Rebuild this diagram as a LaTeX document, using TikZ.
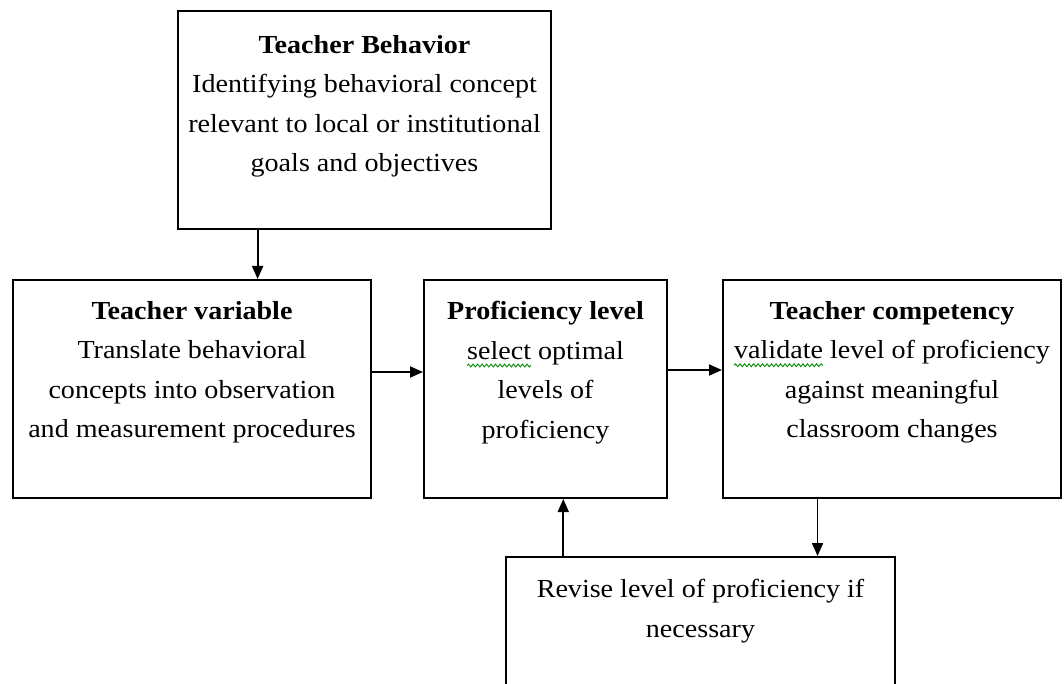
\documentclass[tikz,border=0pt]{standalone}
\usepackage{fontspec}
\setmainfont{Liberation Serif}[FakeStretch=1.08]
\usetikzlibrary{arrows.meta,calc,decorations.pathmorphing}
\newsavebox{\sqbox}
\newcommand{\squig}[1]{\sbox{\sqbox}{#1}\rlap{\tikz[baseline=0pt]{\useasboundingbox (0pt,0pt);\draw[green!55!black,line width=0.9pt,decorate,decoration={snake,amplitude=1.4pt,segment length=4.5pt}] (0pt,-6.5pt) -- (\the\wd\sqbox,-6.5pt);}}\usebox{\sqbox}}
\begin{document}
\begin{tikzpicture}[x=1pt,y=-1pt,
  box/.style={draw=black,line width=2pt,rectangle,anchor=north west,inner sep=0pt},
  lab/.style={anchor=north,align=center,inner sep=0pt,text=black,font=\fontsize{26}{39.5}\selectfont},
  arr/.style={line width=1.8pt,-{Triangle[length=13pt,width=11pt]}}]
\useasboundingbox (0,0) rectangle (1064,684);
\clip (0,0) rectangle (1064,684);
\fill[white] (0,0) rectangle (1064,684);

\node[box,minimum width=373pt,minimum height=218pt,
  label={[lab,yshift=-25pt]north:{\textbf{Teacher Behavior}\\Identifying behavioral concept\\relevant to local or institutional\\goals and objectives}}]
  (tb) at (177,10) {};
\node[box,minimum width=358pt,minimum height=218pt,
  label={[lab,yshift=-22pt]north:{\textbf{Teacher variable}\\Translate behavioral\\concepts into observation\\and measurement procedures}}]
  (tv) at (12,279) {};
\node[box,minimum width=243pt,minimum height=218pt,
  label={[lab,yshift=-22pt]north:{\textbf{Proficiency level}\\\squig{select} optimal\\levels of\\proficiency}}]
  (pl) at (423,279) {};
\node[box,minimum width=338pt,minimum height=218pt,
  label={[lab,yshift=-22pt]north:{\textbf{Teacher competency}\\\squig{validate} level of proficiency\\against meaningful\\classroom changes}}]
  (tc) at (722,279) {};
\node[box,minimum width=389pt,minimum height=170pt,
  label={[lab,yshift=-23pt]north:{Revise level of proficiency if\\necessary}}]
  (rv) at (505,556) {};

\coordinate (p1) at ($(tb.south west)!0.215!(tb.south east)$);
\coordinate (p2) at ($(tc.south west)!0.281!(tc.south east)$);
\coordinate (p3) at ($(rv.north west)!0.149!(rv.north east)$);

\draw[arr] (p1) -- (p1 |- tv.north);
\draw[arr] ([yshift=17pt]tv.east) -- ([yshift=17pt]pl.west);
\draw[arr] ([yshift=19pt]pl.east) -- ([yshift=19pt]tc.west);
\draw[arr] (p2) -- (p2 |- rv.north);
\draw[arr] (p3) -- (p3 |- pl.south);
\end{tikzpicture}
\end{document}
